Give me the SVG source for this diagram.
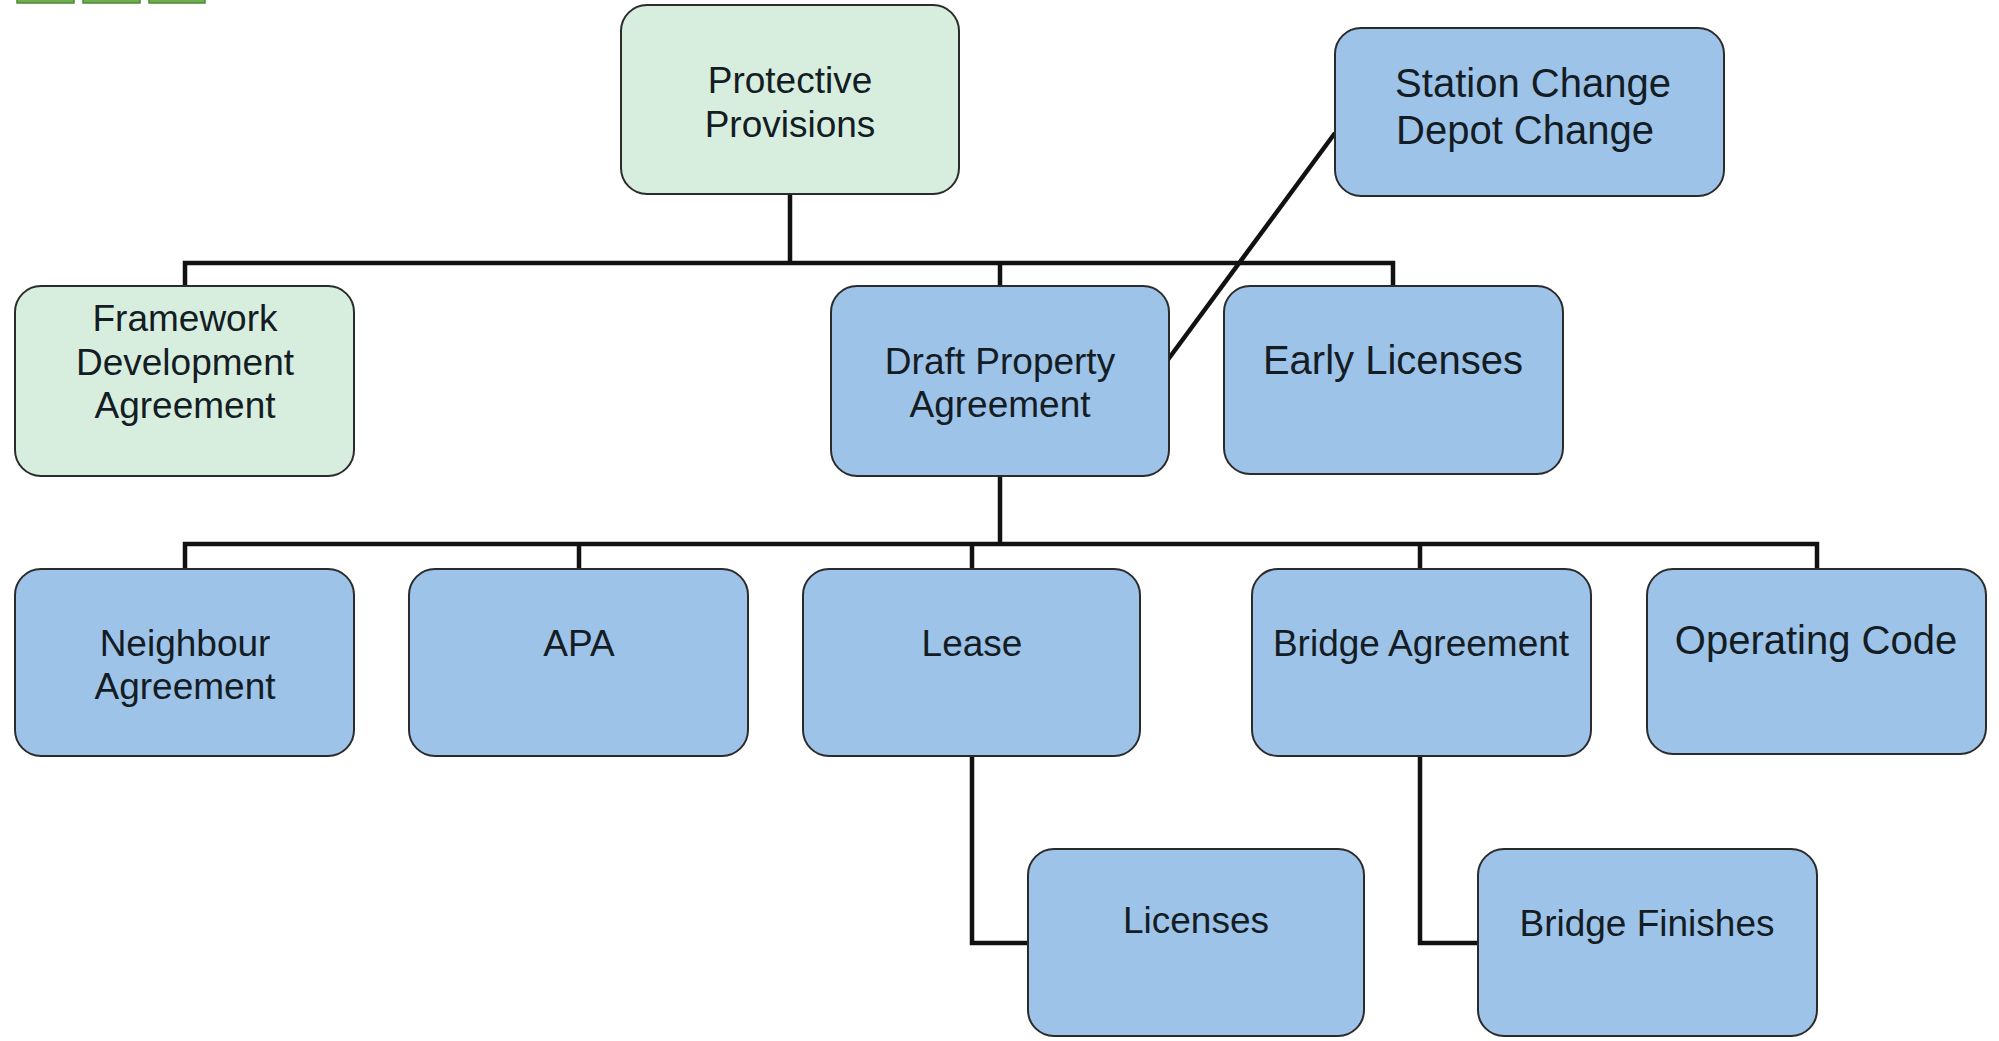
<svg xmlns="http://www.w3.org/2000/svg" width="1999" height="1041" viewBox="0 0 1999 1041">
<style>
.n{stroke:#2b2b2b;stroke-width:2}
.g{fill:#d7eedf}
.b{fill:#9ec3e8}
.t{font-family:"Liberation Sans",Arial,sans-serif;font-size:37px;fill:#141c24;text-anchor:middle}
.L{font-size:40px}
.c{fill:none;stroke:#111;stroke-width:4.5}
.tab{fill:#6fae4f;stroke:#4d8a35;stroke-width:1.5}
</style>
<rect width="1999" height="1041" fill="#fff"/>
<g id="tabs">
<rect class="tab" x="17" y="-10" width="57" height="13"/>
<rect class="tab" x="83" y="-10" width="57" height="13"/>
<rect class="tab" x="149" y="-10" width="56" height="13"/>
</g>
<g id="connectors">
<path class="c" d="M790 194V263M185 286V263H1393V286M1000 263V286"/>
<path class="c" d="M1000 476V544M185 569V544H1817V569M579 544V569M972 544V569M1420 544V569"/>
<path class="c" d="M972 756V943H1028M1420 756V943H1478"/>
<path class="c" d="M1164 365L1335 133" stroke-width="3.5"/>
</g>
<g id="protective-provisions"><rect class="n g" x="621" y="5" width="338" height="189" rx="26"/><text class="t" x="790" y="93">Protective</text><text class="t" x="790" y="137">Provisions</text></g>
<g id="station-change"><rect class="n b" x="1335" y="28" width="389" height="168" rx="26"/><text class="t L" x="1533" y="97">Station Change</text><text class="t L" x="1525" y="144">Depot Change</text></g>
<g id="framework"><rect class="n g" x="15" y="286" width="339" height="190" rx="26"/><text class="t" x="185" y="331">Framework</text><text class="t" x="185" y="375">Development</text><text class="t" x="185" y="418">Agreement</text></g>
<g id="draft-property"><rect class="n b" x="831" y="286" width="338" height="190" rx="26"/><text class="t" x="1000" y="374">Draft Property</text><text class="t" x="1000" y="417">Agreement</text></g>
<g id="early-licenses"><rect class="n b" x="1224" y="286" width="339" height="188" rx="26"/><text class="t L" x="1393" y="374">Early Licenses</text></g>
<g id="neighbour"><rect class="n b" x="15" y="569" width="339" height="187" rx="26"/><text class="t" x="185" y="656">Neighbour</text><text class="t" x="185" y="699">Agreement</text></g>
<g id="apa"><rect class="n b" x="409" y="569" width="339" height="187" rx="26"/><text class="t" x="579" y="656">APA</text></g>
<g id="lease"><rect class="n b" x="803" y="569" width="337" height="187" rx="26"/><text class="t" x="972" y="656">Lease</text></g>
<g id="bridge-agreement"><rect class="n b" x="1252" y="569" width="339" height="187" rx="26"/><text class="t" x="1421" y="656">Bridge Agreement</text></g>
<g id="operating-code"><rect class="n b" x="1647" y="569" width="339" height="185" rx="26"/><text class="t L" x="1816" y="654">Operating Code</text></g>
<g id="licenses"><rect class="n b" x="1028" y="849" width="336" height="187" rx="26"/><text class="t" x="1196" y="933">Licenses</text></g>
<g id="bridge-finishes"><rect class="n b" x="1478" y="849" width="339" height="187" rx="26"/><text class="t" x="1647" y="936">Bridge Finishes</text></g>
</svg>
